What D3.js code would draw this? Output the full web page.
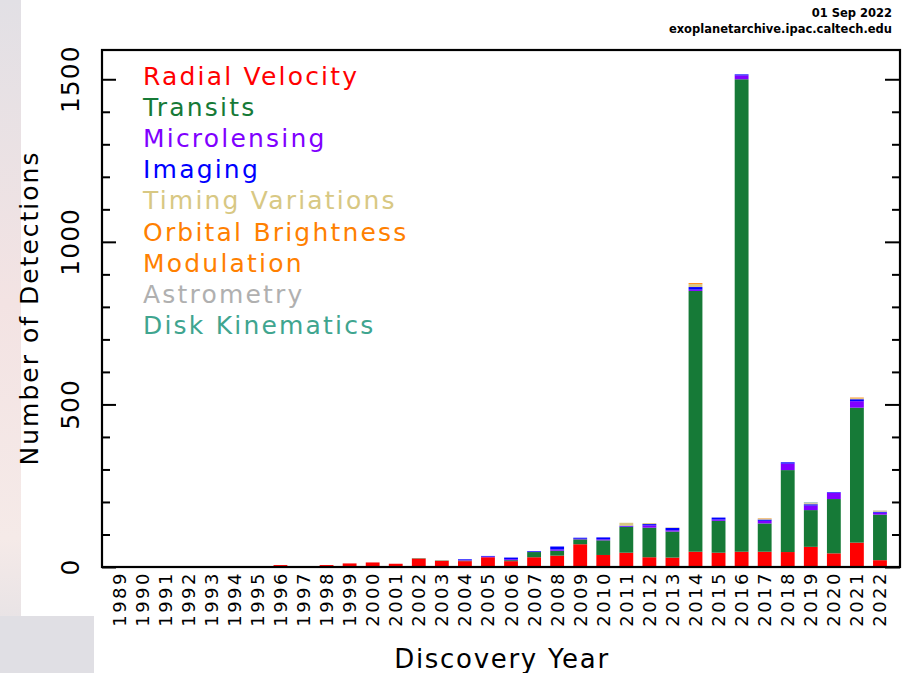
<!DOCTYPE html>
<html>
<head>
<meta charset="utf-8">
<script src="https://cdn.jsdelivr.net/npm/d3@7"></script>
<style>
    html, body { margin: 0; padding: 0; background: #fff; }
    svg { display: block; font-family: "DejaVu Sans", sans-serif; }
</style>
</head>
<body>
<svg id="chart"></svg>
<script>
// Data
const years = [1989, 1990, 1991, 1992, 1993, 1994, 1995, 1996, 1997, 1998, 1999, 2000,
    2001, 2002, 2003, 2004, 2005, 2006, 2007, 2008, 2009, 2010, 2011, 2012,
    2013, 2014, 2015, 2016, 2017, 2018, 2019, 2020, 2021, 2022];

const radialVelocity = [1, 0, 0, 0, 0, 0, 1, 6, 1, 6, 11, 14,
    10, 26, 19, 18, 30, 18, 30, 35, 70, 37, 44, 30,
    29, 47, 44, 47, 47, 46, 62, 42, 75, 21];
const transits = [0, 0, 0, 0, 0, 0, 0, 0, 0, 0, 0, 0,
    0, 1, 1, 2, 0, 3, 16, 15, 15, 45, 79, 91,
    80, 802, 98, 1453, 87, 252, 113, 167, 415, 140];
const microlensing = [0, 0, 0, 0, 0, 0, 0, 0, 0, 0, 0, 0,
    0, 0, 0, 2, 2, 3, 1, 4, 2, 3, 2, 7,
    4, 4, 4, 12, 8, 20, 14, 19, 20, 6];
const imaging = [0, 0, 0, 0, 0, 0, 0, 0, 0, 0, 0, 0,
    0, 0, 0, 2, 2, 5, 2, 9, 3, 6, 2, 4,
    7, 8, 6, 3, 4, 4, 4, 2, 6, 3];
const timingVariations = [0, 0, 0, 2, 0, 1, 0, 0, 0, 0, 0, 0,
    0, 0, 0, 0, 0, 0, 0, 0, 0, 0, 9, 3,
    1, 9, 0, 0, 3, 0, 3, 0, 3, 3];
const orbitalBrightness = [0, 0, 0, 0, 0, 0, 0, 0, 0, 0, 0, 0,
    0, 0, 0, 0, 0, 0, 0, 0, 0, 0, 0, 0,
    0, 3, 0, 0, 1, 0, 0, 0, 2, 0];
const astrometry = [0, 0, 0, 0, 0, 0, 0, 0, 0, 0, 0, 0,
    0, 0, 0, 0, 0, 0, 0, 0, 0, 0, 0, 0,
    1, 0, 0, 0, 0, 0, 2, 0, 0, 1];
const diskKinematics = [0, 0, 0, 0, 0, 0, 0, 0, 0, 0, 0, 0,
    0, 0, 0, 0, 0, 0, 0, 0, 0, 0, 0, 0,
    0, 0, 0, 0, 0, 0, 1, 0, 0, 0];

const methodNames = ['Radial Velocity', 'Transits', 'Microlensing', 'Imaging',
    'Timing Variations', 'Orbital Brightness', 'Modulation', 'Astrometry', 'Disk Kinematics'];
const yTicks = [0, 500, 1000, 1500];

(function() {

    const w = 906;
    const h = 673;

    // Frame of the plot
    const left = 102;
    const right = 900;
    const top = 50;
    const bottom = 567;

    // Series in stacking order, with legend colours
    const series = [
        { key: 'rv', values: radialVelocity, color: '#ff0000' },
        { key: 'tr', values: transits, color: '#167a37' },
        { key: 'ml', values: microlensing, color: '#8000ff' },
        { key: 'im', values: imaging, color: '#0000ff' },
        { key: 'ttv', values: timingVariations, color: '#d8c883' },
        { key: 'obm', values: orbitalBrightness, color: '#ff8000' },
        { key: 'ast', values: astrometry, color: '#b0b0b0' },
        { key: 'dk', values: diskKinematics, color: '#3fa58f' }
    ];
    const legendColors = ['#ff0000', '#167a37', '#8000ff', '#0000ff', '#d8c883',
        '#ff8000', '#ff8000', '#b0b0b0', '#3fa58f'];

    // Build table for d3.stack
    const table = years.map((year, i) => {
        const row = { year: year };
        series.forEach(s => { row[s.key] = s.values[i]; });
        return row;
    });

    const stacked = d3.stack().keys(series.map(s => s.key))(table);

    // Scales
    const scaleX = d3.scaleBand()
        .domain(years)
        .range([107.5, 891.5])
        .paddingInner(0.4)
        .paddingOuter(0.2);

    const scaleY = d3.scaleLinear()
        .domain([0, 1590])
        .range([bottom, top]);

    const svg = d3.select('#chart')
        .attr('width', w)
        .attr('height', h);

    svg.append('rect')
        .attr('width', w)
        .attr('height', h)
        .attr('fill', '#fff');

    // Screenshot edge on the left
    const grad = svg.append('defs').append('linearGradient')
        .attr('id', 'edge')
        .attr('x1', 0).attr('y1', 0).attr('x2', 0).attr('y2', 1);
    grad.append('stop').attr('offset', '0%').attr('stop-color', '#e2e0e5');
    grad.append('stop').attr('offset', '45%').attr('stop-color', '#f3e3e3');
    grad.append('stop').attr('offset', '80%').attr('stop-color', '#f5eae8');
    grad.append('stop').attr('offset', '100%').attr('stop-color', '#e0dfe4');

    svg.append('rect')
        .attr('x', 0).attr('y', 0)
        .attr('width', 21).attr('height', h)
        .attr('fill', 'url(#edge)');

    svg.append('rect')
        .attr('x', 0).attr('y', 616)
        .attr('width', 94).attr('height', h - 616)
        .attr('fill', '#e0dfe4');

    // Bars
    svg.append('g')
        .selectAll('g')
        .data(stacked)
        .enter()
        .append('g')
        .attr('fill', (d, i) => series[i].color)
        .selectAll('rect')
        .data(d => d)
        .enter()
        .append('rect')
        .attr('x', d => scaleX(d.data.year))
        .attr('width', scaleX.bandwidth())
        .attr('y', d => scaleY(d[1]))
        .attr('height', d => scaleY(d[0]) - scaleY(d[1]));

    // Axes: left and right, major ticks every 500, minor every 100
    const minorTicks = d3.range(0, 1600, 100).filter(v => v % 500 !== 0);

    const yAxisLeft = d3.axisRight(scaleY)
        .tickValues(yTicks)
        .tickSize(14)
        .tickFormat('');
    const yAxisLeftMinor = d3.axisRight(scaleY)
        .tickValues(minorTicks)
        .tickSize(8)
        .tickFormat('');
    const yAxisRight = d3.axisLeft(scaleY)
        .tickValues(yTicks)
        .tickSize(15)
        .tickFormat('');
    const yAxisRightMinor = d3.axisLeft(scaleY)
        .tickValues(minorTicks)
        .tickSize(8)
        .tickFormat('');

    [[yAxisLeft, left], [yAxisLeftMinor, left], [yAxisRight, right], [yAxisRightMinor, right]]
        .forEach(([axis, x]) => {
            const g = svg.append('g')
                .attr('transform', `translate(${x}, 0)`)
                .call(axis);
            g.select('.domain').remove();
            g.selectAll('line').attr('stroke', '#000').attr('stroke-width', 2);
        });

    // Frame
    svg.append('rect')
        .attr('x', left)
        .attr('y', top)
        .attr('width', right - left)
        .attr('height', bottom - top)
        .attr('fill', 'none')
        .attr('stroke', '#000')
        .attr('stroke-width', 2.2);

    // Y tick labels (rotated)
    svg.append('g')
        .selectAll('text')
        .data(yTicks)
        .enter()
        .append('text')
        .attr('transform', d => `translate(79, ${scaleY(d)}) rotate(-90)`)
        .attr('text-anchor', 'middle')
        .attr('font-size', 25)
        .attr('letter-spacing', 1)
        .attr('fill', '#000')
        .text(d => d);

    // X tick labels (rotated)
    svg.append('g')
        .selectAll('text')
        .data(years)
        .enter()
        .append('text')
        .attr('transform', d => `translate(${scaleX(d) + scaleX.bandwidth() / 2 + 6.5}, 571) rotate(-90)`)
        .attr('text-anchor', 'end')
        .attr('font-size', 18)
        .attr('letter-spacing', 2.5)
        .attr('fill', '#000')
        .text(d => d);

    // Axis titles
    svg.append('text')
        .attr('transform', 'translate(38, 308) rotate(-90)')
        .attr('text-anchor', 'middle')
        .attr('font-size', 25)
        .attr('letter-spacing', 2)
        .attr('fill', '#000')
        .text('Number of Detections');

    svg.append('text')
        .attr('x', 502)
        .attr('y', 668)
        .attr('text-anchor', 'middle')
        .attr('font-size', 26)
        .attr('letter-spacing', 1.7)
        .attr('fill', '#000')
        .text('Discovery Year');

    // Legend
    svg.append('g')
        .selectAll('text')
        .data(methodNames)
        .enter()
        .append('text')
        .attr('x', 143)
        .attr('y', (d, i) => 85 + i * 31.1)
        .attr('font-size', 25)
        .attr('letter-spacing', 2.2)
        .attr('fill', (d, i) => legendColors[i])
        .text(d => d);

    // Date and source
    svg.append('text')
        .attr('x', 892)
        .attr('y', 17)
        .attr('text-anchor', 'end')
        .attr('font-size', 11.5)
        .attr('font-weight', 'bold')
        .text('01 Sep 2022');

    svg.append('text')
        .attr('x', 892)
        .attr('y', 33)
        .attr('text-anchor', 'end')
        .attr('font-size', 11.5)
        .attr('font-weight', 'bold')
        .text('exoplanetarchive.ipac.caltech.edu');

})();
</script>
</body>
</html>
